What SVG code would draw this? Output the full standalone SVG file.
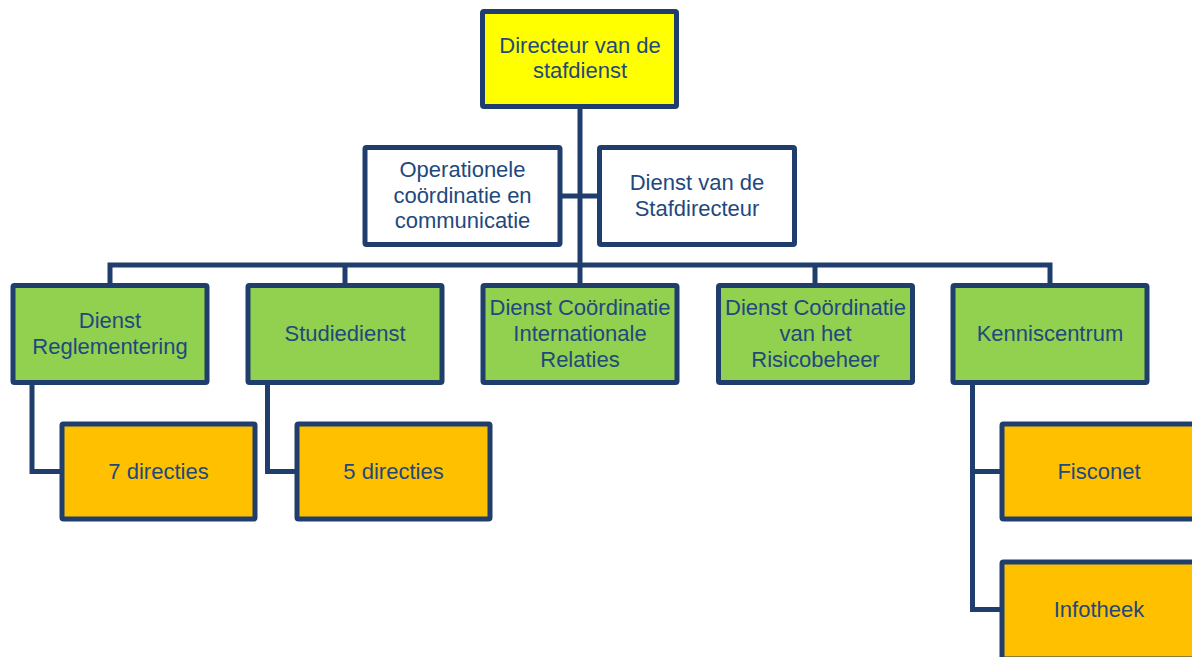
<svg xmlns="http://www.w3.org/2000/svg" width="1192" height="657" viewBox="0 0 1192 657">
  <style>
    .box { stroke: #1F3E6D; stroke-width: 5; }
    .top { fill: #FFFF00; }
    .staff { fill: #FFFFFF; }
    .dept { fill: #92D050; }
    .unit { fill: #FFC000; }
    .lbl { font-family: "Liberation Sans", Arial, sans-serif; font-size: 22px; fill: #1F497D; text-anchor: middle; }
    .wire { fill: none; stroke: #1F3E6D; stroke-width: 5; }
  </style>
  <rect width="1192" height="657" fill="#FFFFFF"/>

  <!-- connectors -->
  <g id="connectors">
    <path class="wire" d="M580 108 V284"/>
    <path class="wire" d="M561 196 H599"/>
    <path class="wire" d="M110 284 V265 H1050 V284"/>
    <path class="wire" d="M345 265 V284"/>
    <path class="wire" d="M815 265 V284"/>
    <path class="wire" d="M32 384 V471.5 H62"/>
    <path class="wire" d="M267.5 384 V471.5 H297"/>
    <path class="wire" d="M972.5 384 V609.5 H1002"/>
    <path class="wire" d="M972.5 471.5 H1002"/>
  </g>

  <!-- top level -->
  <g id="directeur">
    <rect class="box top" x="482.5" y="11.5" width="194" height="95" rx="1.5"/>
    <text class="lbl" x="580" y="53">Directeur van de</text>
    <text class="lbl" x="580" y="78">stafdienst</text>
  </g>

  <!-- staff units -->
  <g id="operationele">
    <rect class="box staff" x="365" y="147.5" width="195" height="97" rx="1.5"/>
    <text class="lbl" x="462.5" y="177">Operationele</text>
    <text class="lbl" x="462.5" y="202.5">coördinatie en</text>
    <text class="lbl" x="462.5" y="228">communicatie</text>
  </g>
  <g id="stafdirecteur">
    <rect class="box staff" x="599.5" y="147.5" width="195" height="97" rx="1.5"/>
    <text class="lbl" x="697" y="190">Dienst van de</text>
    <text class="lbl" x="697" y="215.5">Stafdirecteur</text>
  </g>

  <!-- departments -->
  <g id="reglementering">
    <rect class="box dept" x="13" y="285.5" width="194" height="97" rx="1.5"/>
    <text class="lbl" x="110" y="328">Dienst</text>
    <text class="lbl" x="110" y="353.5">Reglementering</text>
  </g>
  <g id="studiedienst">
    <rect class="box dept" x="248" y="285.5" width="194" height="97" rx="1.5"/>
    <text class="lbl" x="345" y="341">Studiedienst</text>
  </g>
  <g id="internationale">
    <rect class="box dept" x="483" y="285.5" width="194" height="97" rx="1.5"/>
    <text class="lbl" x="580" y="314.5">Dienst Coördinatie</text>
    <text class="lbl" x="580" y="340.5">Internationale</text>
    <text class="lbl" x="580" y="366.5">Relaties</text>
  </g>
  <g id="risicobeheer">
    <rect class="box dept" x="718.5" y="285.5" width="194" height="97" rx="1.5"/>
    <text class="lbl" x="815.5" y="314.5">Dienst Coördinatie</text>
    <text class="lbl" x="815.5" y="340.5">van het</text>
    <text class="lbl" x="815.5" y="366.5">Risicobeheer</text>
  </g>
  <g id="kenniscentrum">
    <rect class="box dept" x="953" y="285.5" width="194" height="97" rx="1.5"/>
    <text class="lbl" x="1050" y="341">Kenniscentrum</text>
  </g>

  <!-- sub units -->
  <g id="directies7">
    <rect class="box unit" x="62" y="424" width="193" height="95" rx="1.5"/>
    <text class="lbl" x="158.5" y="478.5">7 directies</text>
  </g>
  <g id="directies5">
    <rect class="box unit" x="297" y="424" width="193" height="95" rx="1.5"/>
    <text class="lbl" x="393.5" y="478.5">5 directies</text>
  </g>
  <g id="fisconet">
    <rect class="box unit" x="1002" y="424" width="194" height="95" rx="1.5"/>
    <text class="lbl" x="1099" y="479">Fisconet</text>
  </g>
  <g id="infotheek">
    <rect class="box unit" x="1002" y="562" width="194" height="97" rx="1.5"/>
    <text class="lbl" x="1099" y="617">Infotheek</text>
  </g>
</svg>
